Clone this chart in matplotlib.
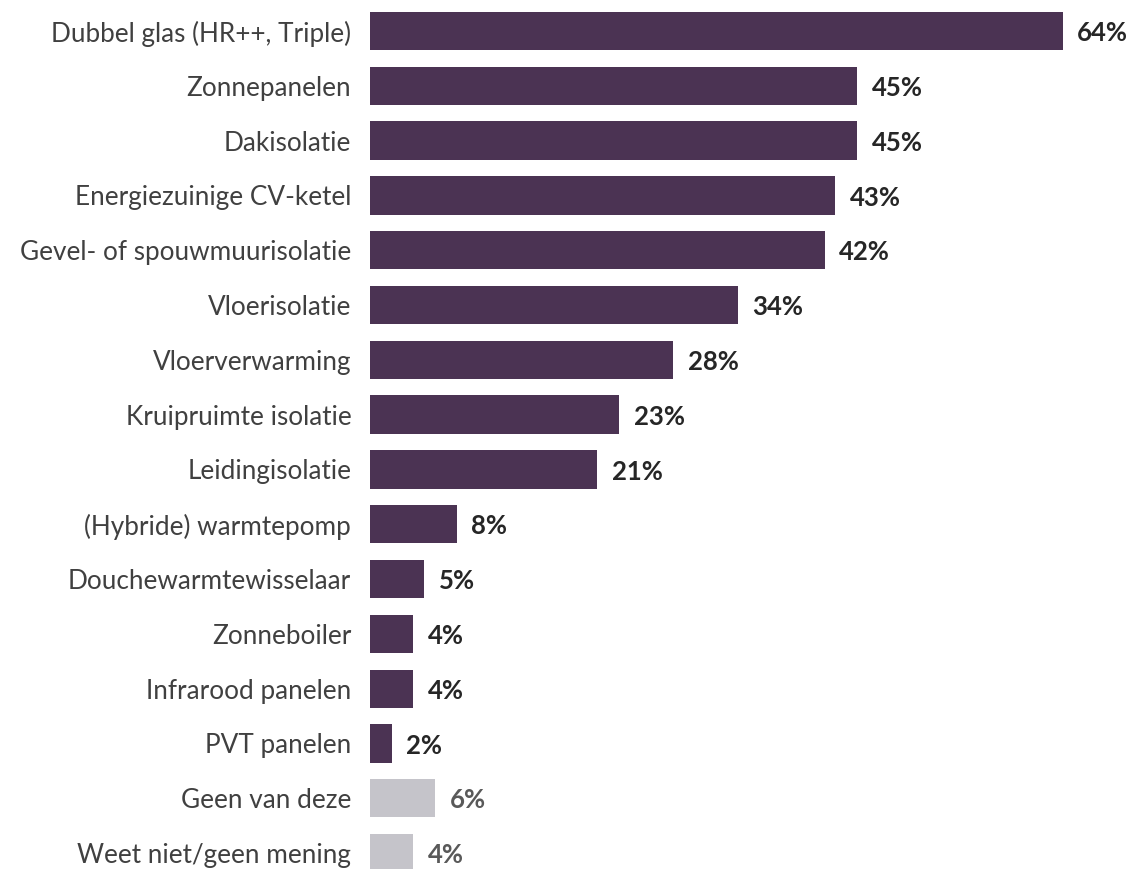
import matplotlib.pyplot as plt

# Maatregelen en percentages
labels = [
    "Dubbel glas (HR++, Triple)",
    "Zonnepanelen",
    "Dakisolatie",
    "Energiezuinige CV-ketel",
    "Gevel- of spouwmuurisolatie",
    "Vloerisolatie",
    "Vloerverwarming",
    "Kruipruimte isolatie",
    "Leidingisolatie",
    "(Hybride) warmtepomp",
    "Douchewarmtewisselaar",
    "Zonneboiler",
    "Infrarood panelen",
    "PVT panelen",
    "Geen van deze",
    "Weet niet/geen mening",
]
values = [64, 45, 45, 43, 42, 34, 28, 23, 21, 8, 5, 4, 4, 2, 6, 4]
n_grey = 2  # laatste twee zijn geen maatregel

purple = "#4b3353"
grey = "#c5c4ca"

plt.rcParams['font.family'] = ['Lato', 'DejaVu Sans']

fig = plt.figure(figsize=(11.32, 8.69), dpi=100)
ax = fig.add_axes([370 / 1132, 0, 1 - 370 / 1132, 1])

pos = list(range(len(labels)))
colors = [purple] * (len(labels) - n_grey) + [grey] * n_grey
ax.barh(pos, values, height=0.7, color=colors)

for i, v in enumerate(values):
    c = "#262626" if i < len(labels) - n_grey else "#595959"
    ax.text(v + 1.35, i + 0.04, f"{v}%", va="center", ha="left",
            fontsize=18.5, fontweight="bold", color=c)

ax.set_yticks(pos)
ax.set_yticklabels(labels, fontsize=18.8, color="#404040")
ax.tick_params(axis="y", length=0, pad=13.5)
ax.set_xticks([])
ax.set_xlim(0, 70.4)
ax.set_ylim(15.29, -0.566)
for s in ax.spines.values():
    s.set_visible(False)

fig.savefig("out.png", dpi=100)
